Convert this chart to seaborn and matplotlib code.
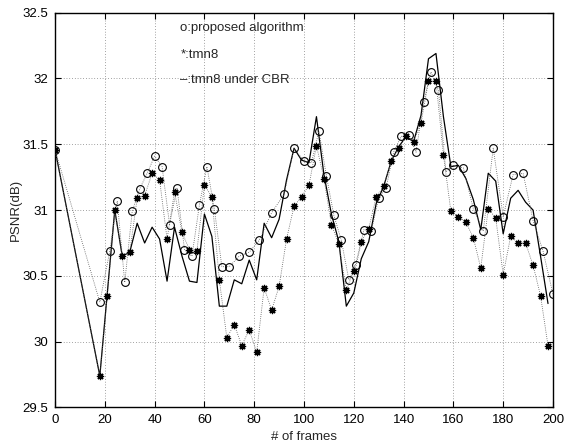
import matplotlib
matplotlib.use("Agg")
import matplotlib.pyplot as plt
import seaborn as sns
import pandas as pd

# ---- data ----
prop_frames = [0, 18, 22, 25, 28, 31, 34, 37, 40, 43, 46, 49, 52, 55, 58, 61, 64, 67, 70, 74,
               78, 82, 87, 92, 96, 100, 103, 106, 109, 112, 115, 118, 121, 124, 127, 130, 133,
               136, 139, 142, 145, 148, 151, 154, 157, 160, 164, 168, 172, 176, 180, 184, 188,
               192, 196, 200]
prop_psnr = [31.46, 30.30, 30.69, 31.07, 30.45, 30.99, 31.16, 31.28, 31.41, 31.33, 30.89, 31.17,
             30.70, 30.65, 31.04, 31.33, 31.01, 30.57, 30.57, 30.65, 30.68, 30.77, 30.98, 31.12,
             31.47, 31.37, 31.36, 31.60, 31.26, 30.96, 30.77, 30.47, 30.58, 30.85, 30.84, 31.09,
             31.17, 31.44, 31.56, 31.57, 31.44, 31.82, 32.05, 31.91, 31.29, 31.34, 31.32, 31.01,
             30.84, 31.47, 30.95, 31.27, 31.28, 30.92, 30.69, 30.36]

tmn_frames = [0] + list(range(18, 199, 3))
tmn_psnr = [31.46, 29.74, 30.35, 31.00, 30.65, 30.68, 31.09, 31.11, 31.28, 31.23, 30.78, 31.14,
            30.83, 30.70, 30.69, 31.19, 31.10, 30.47, 30.03, 30.13, 29.97, 30.09, 29.92, 30.41,
            30.24, 30.42, 30.78, 31.03, 31.10, 31.19, 31.49, 31.24, 30.89, 30.74, 30.39, 30.54,
            30.76, 30.86, 31.10, 31.18, 31.37, 31.47, 31.56, 31.52, 31.66, 31.98, 31.98, 31.42,
            30.99, 30.95, 30.91, 30.79, 30.56, 31.01, 30.94, 30.51, 30.80, 30.75, 30.75, 30.58,
            30.35, 29.97]

cbr_frames = [0] + list(range(18, 199, 3))
cbr_psnr = [31.46, 29.74, 30.37, 31.00, 30.65, 30.68, 30.90, 30.75, 30.87, 30.78, 30.46, 30.87,
            30.65, 30.46, 30.45, 30.97, 30.80, 30.27, 30.27, 30.47, 30.44, 30.62, 30.47, 30.90,
            30.79, 30.93, 31.23, 31.47, 31.38, 31.36, 31.71, 31.27, 30.97, 30.76, 30.27, 30.37,
            30.63, 30.76, 31.05, 31.18, 31.37, 31.48, 31.56, 31.52, 31.72, 32.15, 32.19, 31.71,
            31.33, 31.34, 31.24, 31.08, 30.85, 31.28, 31.22, 30.82, 31.09, 31.15, 31.06, 31.00,
            30.65, 30.29]

x_ticks = list(range(0, 201, 20))
y_ticks = [29.5, 30, 30.5, 31, 31.5, 32, 32.5]
y_tick_labels = ["29.5", "30", "30.5", "31", "31.5", "32", "32.5"]
notes = ["o:proposed algorithm", "*:tmn8", "\u2013:tmn8 under CBR"]

sns.set_style("ticks")
plt.rcParams['font.family'] = ['Liberation Sans', 'DejaVu Sans']

fig = plt.figure(figsize=(5.66, 4.45), dpi=100)
ax = fig.add_axes([0.0972, 0.0843, 0.977 - 0.0972, 0.9715 - 0.0843])

df_p = pd.DataFrame({"frame": prop_frames, "psnr": prop_psnr})
df_t = pd.DataFrame({"frame": tmn_frames, "psnr": tmn_psnr})
df_c = pd.DataFrame({"frame": cbr_frames, "psnr": cbr_psnr})

sns.lineplot(data=df_c, x="frame", y="psnr", ax=ax, color="k", linewidth=0.9,
             linestyle="-", zorder=3)
sns.lineplot(data=df_p, x="frame", y="psnr", ax=ax, color="0.35", linewidth=0.6,
             linestyle=(0, (1, 1.6)), marker="o", markersize=5.6, markerfacecolor="none",
             markeredgecolor="k", markeredgewidth=0.8, zorder=4)
sns.lineplot(data=df_t, x="frame", y="psnr", ax=ax, color="0.35", linewidth=0.6,
             linestyle=(0, (1, 1.6)), marker=(8, 2, 0), markersize=5.2, markeredgecolor="k",
             markeredgewidth=0.9, zorder=4)

ax.set_xlim(0, 200)
ax.set_ylim(29.5, 32.5)
ax.set_xticks(x_ticks)
ax.set_xticklabels([str(t) for t in x_ticks])
ax.set_yticks(y_ticks)
ax.set_yticklabels(y_tick_labels)
ax.tick_params(direction="in", top=True, right=True, length=4, width=0.8,
               labelsize=9.5, pad=5, colors="k")
ax.grid(True, linestyle=(0, (1, 3)), color="0.3", linewidth=0.5)
ax.set_axisbelow(True)
for s in ax.spines.values():
    s.set_linewidth(1.0)
    s.set_color("k")

ax.set_xlabel("# of frames", fontsize=9.5, labelpad=3)
ax.set_ylabel("PSNR(dB)", fontsize=9.5, labelpad=0)

for i, (t, yv) in enumerate(zip(notes, [32.38, 32.18, 31.99])):
    ax.text(50.3, yv, t, fontsize=9.5, va="center", ha="left")

fig.savefig("out.png", dpi=100)
